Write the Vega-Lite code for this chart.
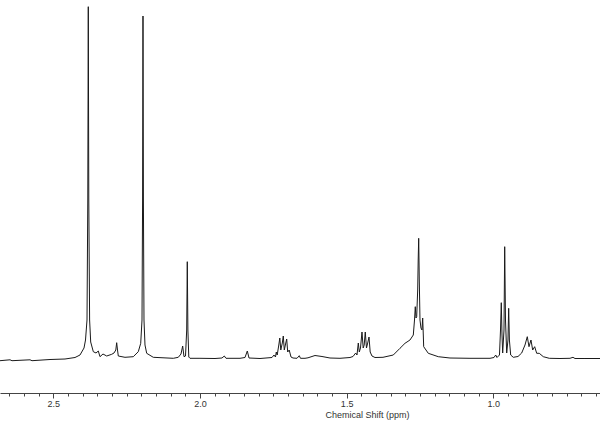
{
  "$schema": "https://vega.github.io/schema/vega-lite/v6.json",
  "width": 600,
  "height": 393,
  "autosize": {"type": "none"},
  "padding": {"left": 0, "right": 0, "top": 0, "bottom": 37},
  "background": "white",
  "config": {"view": {"stroke": null}},
  "data": {"values": [
    {"ppm": 2.6817, "intensity": -1.7},
    {"ppm": 2.6476, "intensity": -0.8},
    {"ppm": 2.6408, "intensity": -1.7},
    {"ppm": 2.5794, "intensity": -0.8},
    {"ppm": 2.5726, "intensity": -1.7},
    {"ppm": 2.5112, "intensity": -0.5},
    {"ppm": 2.4601, "intensity": 0},
    {"ppm": 2.4260, "intensity": 1.5},
    {"ppm": 2.4090, "intensity": 4},
    {"ppm": 2.3953, "intensity": 11},
    {"ppm": 2.3902, "intensity": 19},
    {"ppm": 2.3851, "intensity": 39},
    {"ppm": 2.3824, "intensity": 159},
    {"ppm": 2.3807, "intensity": 352.3},
    {"ppm": 2.3790, "intensity": 159},
    {"ppm": 2.3762, "intensity": 39},
    {"ppm": 2.3725, "intensity": 17},
    {"ppm": 2.3636, "intensity": 7.3},
    {"ppm": 2.3544, "intensity": 6},
    {"ppm": 2.3466, "intensity": 8},
    {"ppm": 2.3408, "intensity": 2.3},
    {"ppm": 2.3306, "intensity": 5},
    {"ppm": 2.3180, "intensity": 3},
    {"ppm": 2.3009, "intensity": 4.7},
    {"ppm": 2.2931, "intensity": 6},
    {"ppm": 2.2869, "intensity": 9},
    {"ppm": 2.2839, "intensity": 16.3},
    {"ppm": 2.2811, "intensity": 9},
    {"ppm": 2.2784, "intensity": 3},
    {"ppm": 2.2556, "intensity": 1.7},
    {"ppm": 2.2273, "intensity": 2.3},
    {"ppm": 2.2102, "intensity": 7.3},
    {"ppm": 2.2020, "intensity": 15.7},
    {"ppm": 2.1976, "intensity": 39},
    {"ppm": 2.1956, "intensity": 159},
    {"ppm": 2.1942, "intensity": 343},
    {"ppm": 2.1928, "intensity": 159},
    {"ppm": 2.1908, "intensity": 39},
    {"ppm": 2.1874, "intensity": 14},
    {"ppm": 2.1816, "intensity": 5.7},
    {"ppm": 2.1591, "intensity": 1.7},
    {"ppm": 2.0909, "intensity": 0.7},
    {"ppm": 2.0739, "intensity": 1.7},
    {"ppm": 2.0647, "intensity": 5},
    {"ppm": 2.0589, "intensity": 13},
    {"ppm": 2.0544, "intensity": 2.3},
    {"ppm": 2.0493, "intensity": 3},
    {"ppm": 2.0452, "intensity": 29},
    {"ppm": 2.0432, "intensity": 97.3},
    {"ppm": 2.0411, "intensity": 29},
    {"ppm": 2.0381, "intensity": 2},
    {"ppm": 2.0340, "intensity": 0.7},
    {"ppm": 1.9999, "intensity": 0.7},
    {"ppm": 1.9487, "intensity": 0.5},
    {"ppm": 1.9249, "intensity": 1},
    {"ppm": 1.9170, "intensity": 3},
    {"ppm": 1.9112, "intensity": 0.7},
    {"ppm": 1.8635, "intensity": 0.7},
    {"ppm": 1.8465, "intensity": 1.5},
    {"ppm": 1.8386, "intensity": 8},
    {"ppm": 1.8328, "intensity": 1},
    {"ppm": 1.7953, "intensity": 0.5},
    {"ppm": 1.7544, "intensity": 1.5},
    {"ppm": 1.7476, "intensity": 4},
    {"ppm": 1.7425, "intensity": 2},
    {"ppm": 1.7398, "intensity": 7},
    {"ppm": 1.7367, "intensity": 4},
    {"ppm": 1.7312, "intensity": 14},
    {"ppm": 1.7278, "intensity": 21},
    {"ppm": 1.7244, "intensity": 9},
    {"ppm": 1.7193, "intensity": 16},
    {"ppm": 1.7159, "intensity": 23},
    {"ppm": 1.7125, "intensity": 9},
    {"ppm": 1.7074, "intensity": 16},
    {"ppm": 1.7043, "intensity": 20},
    {"ppm": 1.7009, "intensity": 7},
    {"ppm": 1.6958, "intensity": 9},
    {"ppm": 1.6896, "intensity": 2},
    {"ppm": 1.6828, "intensity": 1},
    {"ppm": 1.6692, "intensity": 0.7},
    {"ppm": 1.6614, "intensity": 3.3},
    {"ppm": 1.6573, "intensity": 0.7},
    {"ppm": 1.6419, "intensity": 0.7},
    {"ppm": 1.6317, "intensity": 1.2},
    {"ppm": 1.6078, "intensity": 3.5},
    {"ppm": 1.5840, "intensity": 2.5},
    {"ppm": 1.5567, "intensity": 1},
    {"ppm": 1.5226, "intensity": 0.7},
    {"ppm": 1.4885, "intensity": 1.5},
    {"ppm": 1.4783, "intensity": 2.5},
    {"ppm": 1.4691, "intensity": 6},
    {"ppm": 1.4647, "intensity": 4},
    {"ppm": 1.4602, "intensity": 16},
    {"ppm": 1.4568, "intensity": 7},
    {"ppm": 1.4527, "intensity": 11},
    {"ppm": 1.4476, "intensity": 27},
    {"ppm": 1.4435, "intensity": 11},
    {"ppm": 1.4401, "intensity": 14},
    {"ppm": 1.4364, "intensity": 27},
    {"ppm": 1.4323, "intensity": 11},
    {"ppm": 1.4289, "intensity": 15},
    {"ppm": 1.4237, "intensity": 22},
    {"ppm": 1.4197, "intensity": 7},
    {"ppm": 1.4135, "intensity": 3},
    {"ppm": 1.4033, "intensity": 1.5},
    {"ppm": 1.3760, "intensity": 1.7},
    {"ppm": 1.3409, "intensity": 4},
    {"ppm": 1.3181, "intensity": 10.7},
    {"ppm": 1.3010, "intensity": 15.7},
    {"ppm": 1.2840, "intensity": 19},
    {"ppm": 1.2727, "intensity": 24},
    {"ppm": 1.2686, "intensity": 39},
    {"ppm": 1.2659, "intensity": 52.3},
    {"ppm": 1.2635, "intensity": 41},
    {"ppm": 1.2611, "intensity": 42.3},
    {"ppm": 1.2577, "intensity": 69},
    {"ppm": 1.2560, "intensity": 99},
    {"ppm": 1.2543, "intensity": 120.7},
    {"ppm": 1.2523, "intensity": 79},
    {"ppm": 1.2499, "intensity": 39},
    {"ppm": 1.2465, "intensity": 31},
    {"ppm": 1.2431, "intensity": 29},
    {"ppm": 1.2407, "intensity": 41},
    {"ppm": 1.2386, "intensity": 24},
    {"ppm": 1.2373, "intensity": 12.3},
    {"ppm": 1.2216, "intensity": 5.7},
    {"ppm": 1.1875, "intensity": 2.3},
    {"ppm": 1.1476, "intensity": 1},
    {"ppm": 1.0794, "intensity": 0.7},
    {"ppm": 1.0112, "intensity": 0.7},
    {"ppm": 0.9976, "intensity": 1.5},
    {"ppm": 0.9918, "intensity": 4},
    {"ppm": 0.9874, "intensity": 1.5},
    {"ppm": 0.9789, "intensity": 4},
    {"ppm": 0.9754, "intensity": 29},
    {"ppm": 0.9727, "intensity": 56.3},
    {"ppm": 0.9703, "intensity": 24},
    {"ppm": 0.9680, "intensity": 6},
    {"ppm": 0.9635, "intensity": 29},
    {"ppm": 0.9611, "intensity": 112.3},
    {"ppm": 0.9584, "intensity": 39},
    {"ppm": 0.9543, "intensity": 6},
    {"ppm": 0.9499, "intensity": 19},
    {"ppm": 0.9475, "intensity": 50.7},
    {"ppm": 0.9451, "intensity": 19},
    {"ppm": 0.9407, "intensity": 4},
    {"ppm": 0.9318, "intensity": 1.7},
    {"ppm": 0.9158, "intensity": 2.5},
    {"ppm": 0.9032, "intensity": 6},
    {"ppm": 0.8919, "intensity": 14},
    {"ppm": 0.8841, "intensity": 22.3},
    {"ppm": 0.8783, "intensity": 12.3},
    {"ppm": 0.8715, "intensity": 19},
    {"ppm": 0.8657, "intensity": 9},
    {"ppm": 0.8589, "intensity": 12.3},
    {"ppm": 0.8520, "intensity": 5.7},
    {"ppm": 0.8432, "intensity": 5.7},
    {"ppm": 0.8295, "intensity": 2.3},
    {"ppm": 0.8091, "intensity": 0.7},
    {"ppm": 0.7726, "intensity": 0.5},
    {"ppm": 0.7385, "intensity": 0.7},
    {"ppm": 0.7283, "intensity": 1.7},
    {"ppm": 0.7215, "intensity": 0.5},
    {"ppm": 0.6874, "intensity": 0.5},
    {"ppm": 0.6362, "intensity": 0.5}
  ]},
  "mark": {"type": "line", "color": "#1a1a1a", "strokeWidth": 1, "clip": true, "interpolate": "linear"},
  "encoding": {
    "x": {
      "field": "ppm",
      "type": "quantitative",
      "sort": null,
      "scale": {"domain": [0.6362, 2.6817], "reverse": true, "nice": false, "zero": false},
      "axis": {
        "title": "Chemical Shift (ppm)",
        "values": [2.65, 2.6, 2.55, 2.5, 2.45, 2.4, 2.35, 2.3, 2.25, 2.2, 2.15, 2.1, 2.05, 2.0, 1.95, 1.9, 1.85, 1.8, 1.75, 1.7, 1.65, 1.6, 1.55, 1.5, 1.45, 1.4, 1.35, 1.3, 1.25, 1.2, 1.15, 1.1, 1.05, 1.0, 0.95, 0.9, 0.85, 0.8, 0.75, 0.7, 0.65],
        "labelExpr": "abs(datum.value*2 - round(datum.value*2)) < 0.001 ? format(datum.value, '.1f') : ''",
        "tickSize": {"condition": {"test": "abs(datum.value*2 - round(datum.value*2)) < 0.001", "value": 5}, "value": 3},
        "labelOverlap": false,
        "labelFlush": false,
        "grid": false,
        "domainColor": "#444444",
        "tickColor": "#444444",
        "domainWidth": 1,
        "tickWidth": 1,
        "labelFont": "Liberation Sans",
        "labelFontSize": 9,
        "labelColor": "#333333",
        "labelPadding": 1,
        "titleFont": "Liberation Sans",
        "titleFontSize": 9,
        "titleFontWeight": "normal",
        "titleColor": "#333333",
        "titleX": 367,
        "titleY": 17,
        "titleAlign": "center",
        "titleBaseline": "top"
      }
    },
    "y": {
      "field": "intensity",
      "type": "quantitative",
      "scale": {"domain": [-34, 359], "nice": false, "zero": false},
      "axis": null
    }
  }
}
